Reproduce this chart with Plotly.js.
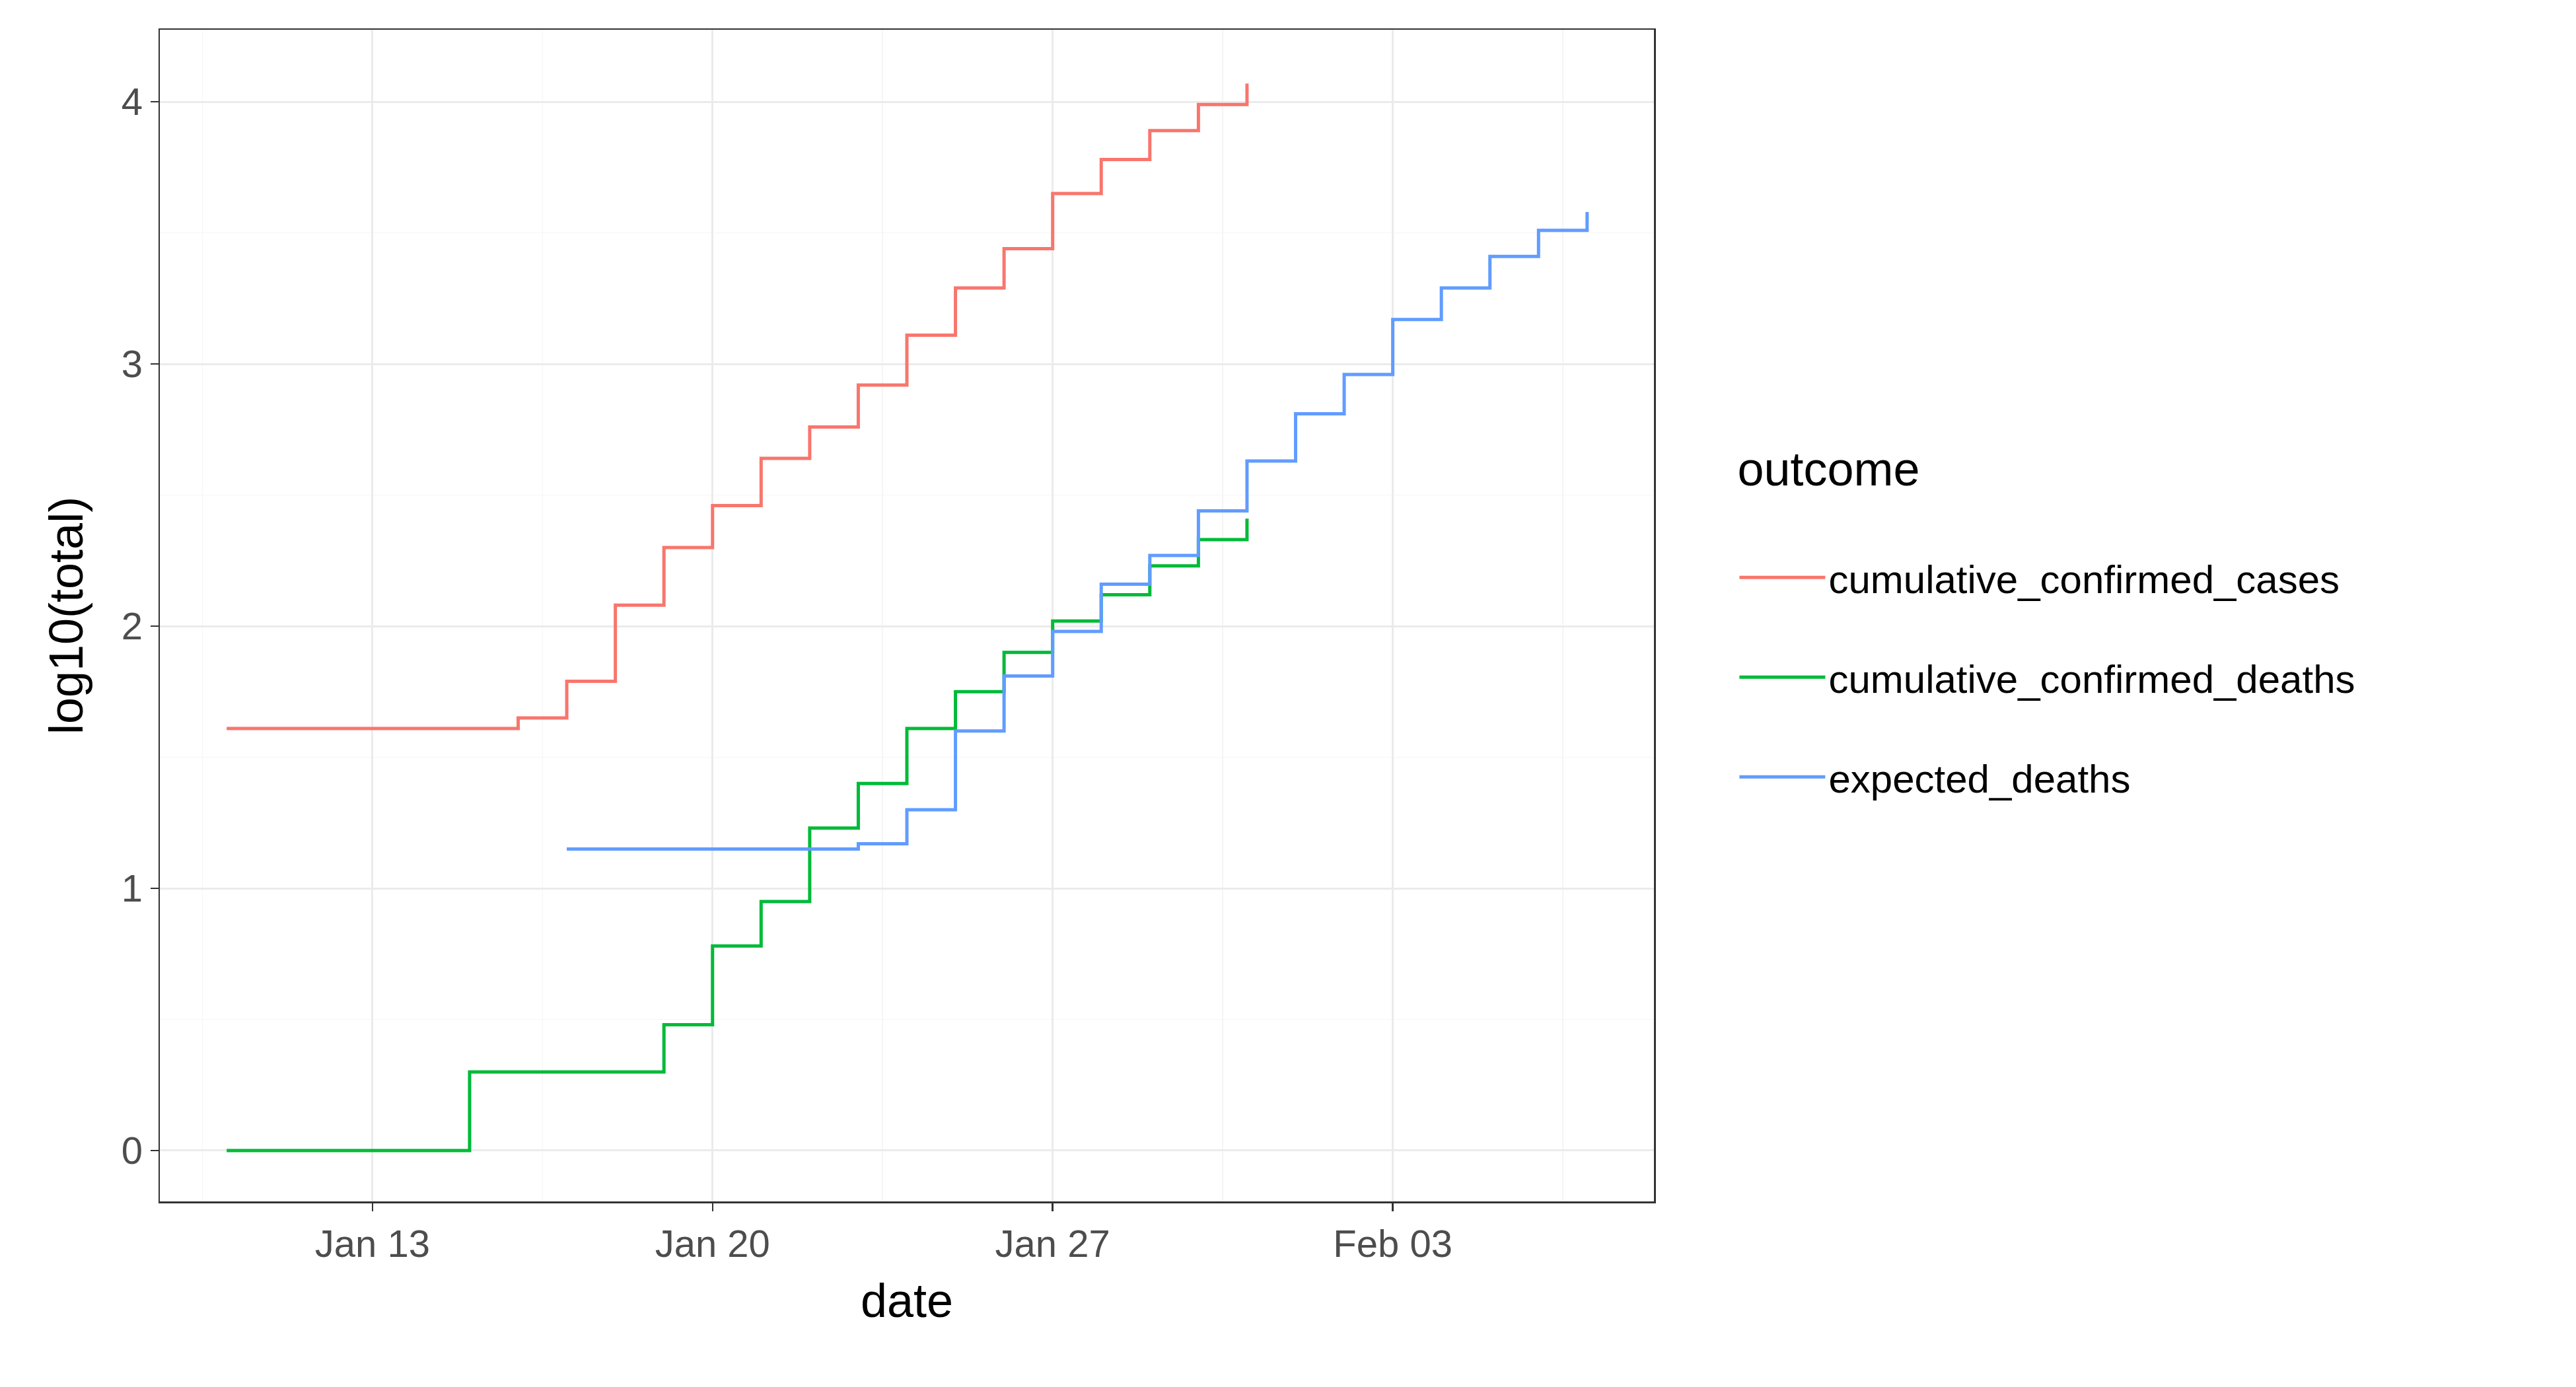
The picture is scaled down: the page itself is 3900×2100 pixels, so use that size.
<!DOCTYPE html>
<html><head><meta charset="utf-8">
<script src="https://cdn.plot.ly/plotly-3.0.1.min.js"></script>
<style>body{margin:0;background:#fff}</style></head>
<body><div id="c" style="width:3900px;height:2100px"></div>
<script>
const casesDates=["2020-01-10","2020-01-16","2020-01-17","2020-01-18","2020-01-19","2020-01-20","2020-01-21","2020-01-22","2020-01-23","2020-01-24","2020-01-25","2020-01-26","2020-01-27","2020-01-28","2020-01-29","2020-01-30","2020-01-31"];
const casesVals=[1.61,1.65,1.79,2.08,2.30,2.46,2.64,2.76,2.92,3.11,3.29,3.44,3.65,3.78,3.89,3.99,4.07];
const deathsDates=["2020-01-10","2020-01-15","2020-01-19","2020-01-20","2020-01-21","2020-01-22","2020-01-23","2020-01-24","2020-01-25","2020-01-26","2020-01-27","2020-01-28","2020-01-29","2020-01-30","2020-01-31"];
const deathsVals=[0,0.30,0.48,0.78,0.95,1.23,1.40,1.61,1.75,1.90,2.02,2.12,2.23,2.33,2.41];
const expDates=["2020-01-17","2020-01-23","2020-01-24","2020-01-25","2020-01-26","2020-01-27","2020-01-28","2020-01-29","2020-01-30","2020-01-31","2020-02-01","2020-02-02","2020-02-03","2020-02-04","2020-02-05","2020-02-06","2020-02-07"];
const expVals=[1.15,1.17,1.30,1.60,1.81,1.98,2.16,2.27,2.44,2.63,2.81,2.96,3.17,3.29,3.41,3.51,3.58];
const F="Liberation Sans, Arial, sans-serif";
function tr(x,y,n,c){return {x:x,y:y,name:n,legendgroup:n,type:"scatter",mode:"lines",line:{shape:"hv",color:c,width:5}};}
const data=[tr(casesDates,casesVals,"cumulative_confirmed_cases","#F8766D"),
tr(deathsDates,deathsVals,"cumulative_confirmed_deaths","#00BA38"),
tr(expDates,expVals,"expected_deaths","#619CFF")];
const layout={width:3900,height:2100,paper_bgcolor:"#fff",plot_bgcolor:"#fff",
margin:{l:242,r:1383+13,t:45,b:268+13},font:{family:F,color:"#000"},
xaxis:{type:"date",range:["2020-01-08 15:00","2020-02-08 09:00"],tick0:"2020-01-13",dtick:7*86400000,
tickformat:"%b %d",ticks:"outside",ticklen:12,tickwidth:2.5,tickcolor:"#333",
tickfont:{size:58,color:"#4D4D4D"},gridcolor:"#EBEBEB",gridwidth:3,
minor:{dtick:3.5*86400000,tick0:"2020-01-09 12:00",showgrid:true,gridcolor:"#F5F5F5",gridwidth:1.5},
showline:true,linecolor:"#333",linewidth:2.5,mirror:true,zeroline:false,
title:{text:"date",font:{size:72},standoff:30}},
yaxis:{range:[-0.194,4.275],dtick:1,ticks:"outside",ticklen:12,tickwidth:2.5,tickcolor:"#333",
tickfont:{size:58,color:"#4D4D4D"},gridcolor:"#EBEBEB",gridwidth:3,
minor:{dtick:0.5,showgrid:true,gridcolor:"#F5F5F5",gridwidth:1.5},
showline:true,linecolor:"#333",linewidth:2.5,mirror:true,zeroline:false,
title:{text:"log10(total)",font:{size:72},standoff:35}},
legend:{x:1.055,y:0.5,xanchor:"left",yanchor:"middle",font:{size:60},
title:{text:"outcome<br> ",font:{size:72}},tracegroupgap:70,itemwidth:130},
showlegend:true};
Plotly.newPlot("c",data,layout,{staticPlot:true});
</script></body></html>
